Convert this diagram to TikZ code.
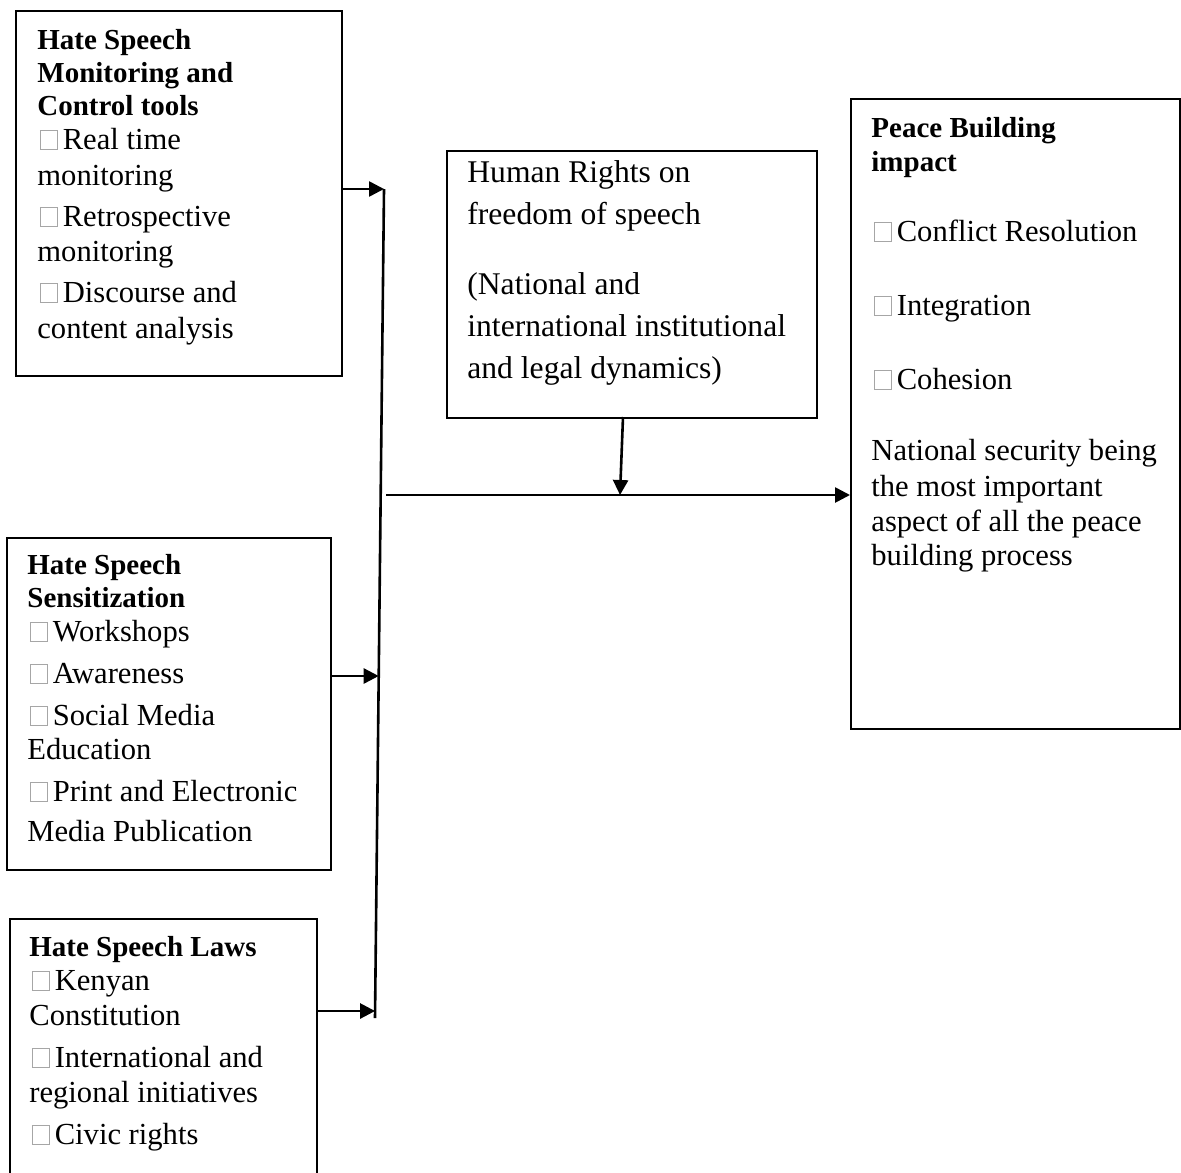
\documentclass[tikz,border=0pt]{standalone}
\usepackage{fontspec}
\setmainfont{Liberation Serif}
\usetikzlibrary{arrows.meta}
\newcommand\nog{\hspace{1.2pt}\textcolor{black!35}{\fboxsep=0pt\fboxrule=0.5pt\fbox{\rule{0pt}{9pt}\hspace{8pt}}}\hspace{2.5pt}}
\newcommand\hd[1]{{\fontsize{14.5}{16.5}\selectfont\bfseries #1}}
\tikzset{
  panel/.style={draw, line width=1pt, anchor=north west, inner sep=0pt},
  txt/.style={anchor=base west, align=left, inner sep=0pt, font=\fontsize{15.3}{16.5}\selectfont},
  arr/.style={line width=1.3pt, -{Triangle[length=7.5pt,width=7.5pt]}}
}
\begin{document}
\begin{tikzpicture}[x=0.5pt, y=-0.5pt]
        \useasboundingbox (0,0) rectangle (1181,1172);
        % boxes
        \node[panel, minimum width=163pt, minimum height=182.5pt] (mon) at (15,10) {};
        \node[panel, minimum width=162pt, minimum height=166pt] (sens) at (6,537) {};
        \node[panel, minimum width=153.5pt, minimum height=131pt] (laws) at (9,918) {};
        \node[panel, minimum width=185pt, minimum height=133.5pt] (rights) at (446,150) {};
        \node[panel, minimum width=164.5pt, minimum height=315pt] (peace) at (850,98) {};

        % texts (placed by the baseline of their last line)
        \node[txt] (montxt) at (37,338) {\hd{Hate Speech}\\[0pt]\hd{Monitoring and}\\[0pt]\hd{Control tools}\\[0.5pt]
          \nog Real time\\[1.5pt]monitoring\\[4pt]\nog Retrospective\\[1pt]monitoring\\[4pt]\nog Discourse and\\[1.5pt]content analysis};
        \node[txt] (senstxt) at (27,841) {\hd{Hate Speech}\\[0pt]\hd{Sensitization}\\[0.5pt]\nog Workshops\\[4.5pt]\nog Awareness\\[4.5pt]
          \nog Social Media\\[0.5pt]Education\\[4.5pt]\nog Print and Electronic\\[3.5pt]Media Publication};
        \node[txt] (lawstxt) at (29,1144) {\hd{Hate Speech Laws}\\[0.5pt]\nog Kenyan\\[1pt]Constitution\\[4.5pt]\nog International and\\[1pt]regional initiatives\\[4.5pt]\nog Civic rights};
        \node[txt, font=\fontsize{15.8}{16.5}\selectfont] (rightstxt) at (467,378) {Human Rights on\\[4.5pt]freedom of speech\\[18.5pt](National and\\[4.5pt]international institutional\\[4.5pt]and legal dynamics)};
        \node[txt] (peacetxt) at (871,565) {\hd{Peace Building}\\[0.5pt]\hd{impact}\\[18.5pt]\nog Conflict Resolution\\[20.5pt]\nog Integration\\[20.5pt]\nog Cohesion\\[19pt]
          National security being\\[1.5pt]the most important\\[1pt]aspect of all the peace\\[0.5pt]building process};

        % joining line
        \coordinate (top) at (384,189);
        \coordinate (mid) at (378.7,676);
        \coordinate (low) at (375.1,1011);
        \coordinate (bot) at (375,1018);
        \coordinate (start) at (386,495);
        \coordinate (meet) at (620,495);
        \draw[line width=1.3pt] (top) -- (bot);

        \draw[arr] (mon.east |- top) -- (top);
        \draw[arr] (sens.east |- mid) -- (mid);
        \draw[arr] (laws.east |- low) -- (low);
        \draw[arr] (start) -- (start -| peace.west);
        \draw[arr] (623,417) -- (meet);
\end{tikzpicture}
\end{document}
